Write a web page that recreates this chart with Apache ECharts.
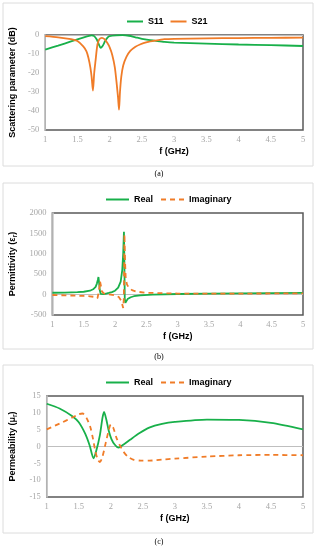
<!DOCTYPE html>
<html>
<head>
<meta charset="utf-8">
<script src="https://cdn.jsdelivr.net/npm/echarts@6/dist/echarts.min.js"></script>
<style>
html,body{margin:0;padding:0;background:#fff;}
#c{width:318px;height:550px;}
</style>
</head>
<body>
<div id="c"></div>
<script>
// ---------- data ----------
var xTicks = [1, 1.5, 2, 2.5, 3, 3.5, 4, 4.5, 5];

// (a) scattering parameters (dB)
var s11F = [1.0, 1.2, 1.4, 1.6, 1.68, 1.72, 1.76, 1.8, 1.83, 1.86, 1.89, 1.93, 1.97, 2.0, 2.1, 2.2, 2.3, 2.4, 2.5, 2.6, 2.7, 2.85, 3.0, 3.5, 4.0, 4.5, 5.0];
var s11V = [-7.7, -5.6, -3.4, -1.2, -0.4, -0.2, -0.6, -2.4, -4.8, -6.8, -5.8, -3.2, -1.3, -0.6, -0.2, -0.1, -0.4, -1.2, -2.0, -2.6, -3.0, -3.6, -4.0, -4.5, -5.0, -5.3, -5.8];
var s21F = [1.0, 1.2, 1.4, 1.5, 1.59, 1.64, 1.67, 1.7, 1.72, 1.74, 1.76, 1.78, 1.81, 1.84, 1.88, 1.92, 1.96, 2.0, 2.04, 2.08, 2.11, 2.13, 2.145, 2.16, 2.18, 2.21, 2.26, 2.32, 2.4, 2.47, 2.58, 2.7, 2.85, 3.0, 3.5, 4.0, 4.5, 5.0];
var s21V = [-0.6, -1.2, -2.2, -3.2, -6.0, -8.6, -12, -17, -22, -29.3, -20, -13.8, -5.0, -2.2, -1.5, -2.2, -4.0, -6.5, -10.5, -17, -26, -33, -39.3, -30, -22, -16, -11.5, -8.4, -6.2, -5.0, -3.8, -3.0, -2.2, -2.0, -1.8, -1.6, -1.5, -1.4];

// (b) permittivity
var epsReF = [1.0, 1.2, 1.4, 1.5, 1.6, 1.65, 1.69, 1.71, 1.725, 1.735, 1.745, 1.755, 1.77, 1.79, 1.82, 1.86, 1.9, 1.95, 2.0, 2.05, 2.09, 2.115, 2.13, 2.142, 2.148, 2.155, 2.165, 2.18, 2.2, 2.25, 2.3, 2.4, 2.6, 3.0, 3.5, 4.0, 4.5, 5.0];
var epsReV = [45, 50, 60, 70, 95, 130, 190, 270, 360, 430, 300, 120, 20, 0, 10, 25, 40, 60, 95, 170, 320, 600, 1000, 1540, 900, -100, -200, -160, -110, -65, -40, -18, 0, 15, 25, 30, 35, 40];
var epsImF = [1.0, 1.2, 1.4, 1.5, 1.6, 1.68, 1.72, 1.74, 1.75, 1.76, 1.77, 1.79, 1.82, 1.9, 2.0, 2.06, 2.1, 2.13, 2.14, 2.145, 2.15, 2.16, 2.17, 2.19, 2.22, 2.27, 2.35, 2.5, 3.0, 3.5, 4.0, 4.5, 5.0];
var epsImV = [-10, -18, -28, -33, -42, -58, -85, -60, 150, 330, 250, 80, 30, 5, -20, -60, -150, -330, -100, 600, 1480, 800, 400, 250, 170, 110, 70, 45, 25, 25, 25, 28, 30];

// (c) permeability
var muReF = [1.0, 1.2, 1.4, 1.5, 1.6, 1.67, 1.73, 1.77, 1.83, 1.87, 1.895, 1.93, 1.97, 2.01, 2.06, 2.12, 2.2, 2.3, 2.45, 2.6, 2.8, 3.0, 3.5, 4.0, 4.5, 5.0];
var muReV = [12.7, 11.3, 9.0, 7.2, 3.8, 0.3, -3.5, -1.5, 3.4, 8.5, 10.3, 8.0, 4.5, 2.2, 0.6, -0.35, 0.6, 2.0, 4.0, 5.6, 6.7, 7.3, 8.0, 7.9, 7.0, 5.1];
var muImF = [1.0, 1.2, 1.4, 1.5, 1.56, 1.62, 1.68, 1.72, 1.76, 1.8, 1.83, 1.87, 1.92, 1.97, 2.0, 2.04, 2.09, 2.14, 2.2, 2.27, 2.35, 2.47, 2.6, 2.8, 3.0, 3.5, 4.0, 4.5, 5.0];
var muImV = [5.1, 6.8, 8.6, 9.6, 9.8, 8.5, 5.8, 2.5, -1.5, -4.0, -4.6, -3.0, 1.0, 5.0, 6.6, 5.5, 2.5, 0.4, -1.6, -3.1, -3.9, -4.2, -4.2, -3.9, -3.6, -3.0, -2.6, -2.5, -2.6];

// ---------- helpers ----------
function pairs(xs, ys) { return xs.map(function (x, i) { return [x, ys[i]]; }); }
function plain(v) { return String(v); }

var GREEN = '#18b04a', ORANGE = '#f07c28';
var tickFont = { color: '#a6a6a6', fontSize: 8.5, fontFamily: 'Liberation Serif', formatter: plain };
var titleFont = { color: '#000', fontSize: 9, fontWeight: 'bold', fontFamily: 'Liberation Sans' };

var grids = [
  { left: 45, top: 35, width: 258, height: 95 },
  { left: 49, top: 213, width: 254, height: 102 },
  { left: 45, top: 396, width: 258, height: 101 }
];
grids.forEach(function (g) { g.show = true; g.borderColor = '#595959'; g.borderWidth = 1.5; g.backgroundColor = 'transparent'; });

function xAx(i) {
  return {
    gridIndex: i, type: 'value', min: 1, max: 5, interval: 0.5,
    name: 'f (GHz)', nameLocation: 'middle', nameGap: 17, nameTextStyle: titleFont,
    axisLine: { show: false }, axisTick: { show: false }, splitLine: { show: false },
    axisLabel: Object.assign({ margin: 5 }, tickFont)
  };
}
function yAx(i, min, max, interval, name, gap) {
  return {
    gridIndex: i, type: 'value', min: min, max: max, interval: interval,
    name: name, nameLocation: 'middle', nameGap: gap,
    nameTextStyle: Object.assign({ rich: { sub: { fontSize: 6.5, fontWeight: 'bold', verticalAlign: 'bottom', padding: [5, 0, 0, 0], fontFamily: 'Liberation Sans' } } }, titleFont),
    axisLine: { show: true, lineStyle: { color: '#d0d0d0', width: 1.5 } },
    axisTick: { show: false }, splitLine: { show: false },
    axisLabel: Object.assign({ margin: 6 }, tickFont)
  };
}
function zeroLine() {
  return { silent: true, symbol: 'none', z: 1, label: { show: false },
    lineStyle: { color: '#bfbfbf', type: 'solid', width: 1.2 }, data: [{ yAxis: 0 }] };
}
function line(name, i, data, color, dashed, ml) {
  var s = {
    name: name, type: 'line', xAxisIndex: i, yAxisIndex: i, data: data,
    showSymbol: false, symbol: 'none', smooth: 0.25, z: 3,
    lineStyle: { color: color, width: 1.8, type: dashed ? [5, 4] : 'solid' },
    itemStyle: { color: color }
  };
  if (ml) s.markLine = zeroLine();
  return s;
}
function makeLegend(left, top, names, w, gap) {
  return {
    left: left, top: top, data: names, itemWidth: w, itemHeight: 10, itemGap: gap,
    selectedMode: false, orient: 'horizontal',
    itemStyle: { opacity: 0, borderWidth: 0 },
    textStyle: { fontSize: 9, fontWeight: 'bold', color: '#000', fontFamily: 'Liberation Sans' }
  };
}

var captions = [['(a)', 174], ['(b)', 357], ['(c)', 542]];
var frames = [[3, 3, 310, 163], [3, 183, 310, 166], [3, 365, 310, 168]];

var option = {
  animation: false,
  grid: grids,
  xAxis: [xAx(0), xAx(1), xAx(2)],
  yAxis: [
    yAx(0, -50, 0, 10, 'Scattering parameter (dB)', 25),
    yAx(1, -500, 2000, 500, 'Permittivity (ε{sub|r})', 29),
    yAx(2, -15, 15, 5, 'Permeability (μ{sub|r})', 25)
  ],
  legend: [
    makeLegend(121, 12, ['S11', 'S21'], 16, 6),
    makeLegend(100, 190, ['Real', 'Imaginary'], 23, 7),
    makeLegend(100, 373, ['Real', 'Imaginary'], 23, 7)
  ],
  graphic: frames.map(function (f) {
    return { type: 'rect', silent: true, z: -10, shape: { x: f[0], y: f[1], width: f[2], height: f[3] },
      style: { fill: 'none', stroke: '#dcdcdc', lineWidth: 1 } };
  }).concat(captions.map(function (c) {
    return { type: 'text', silent: true, x: 159, y: c[1],
      style: { text: c[0], fill: '#000', font: '8px "Liberation Serif"', textAlign: 'center', textVerticalAlign: 'middle' } };
  })),
  series: [
    line('S11', 0, pairs(s11F, s11V), GREEN, false, true),
    line('S21', 0, pairs(s21F, s21V), ORANGE, false, false),
    line('Real', 1, pairs(epsReF, epsReV), GREEN, false, true),
    line('Imaginary', 1, pairs(epsImF, epsImV), ORANGE, true, false),
    line('Real', 2, pairs(muReF, muReV), GREEN, false, true),
    line('Imaginary', 2, pairs(muImF, muImV), ORANGE, true, false)
  ]
};
option.series[2].smooth = false;
option.series[3].smooth = false;

var chart = echarts.init(document.getElementById('c'), null, { renderer: 'canvas' });
chart.setOption(option);
</script>
</body>
</html>
